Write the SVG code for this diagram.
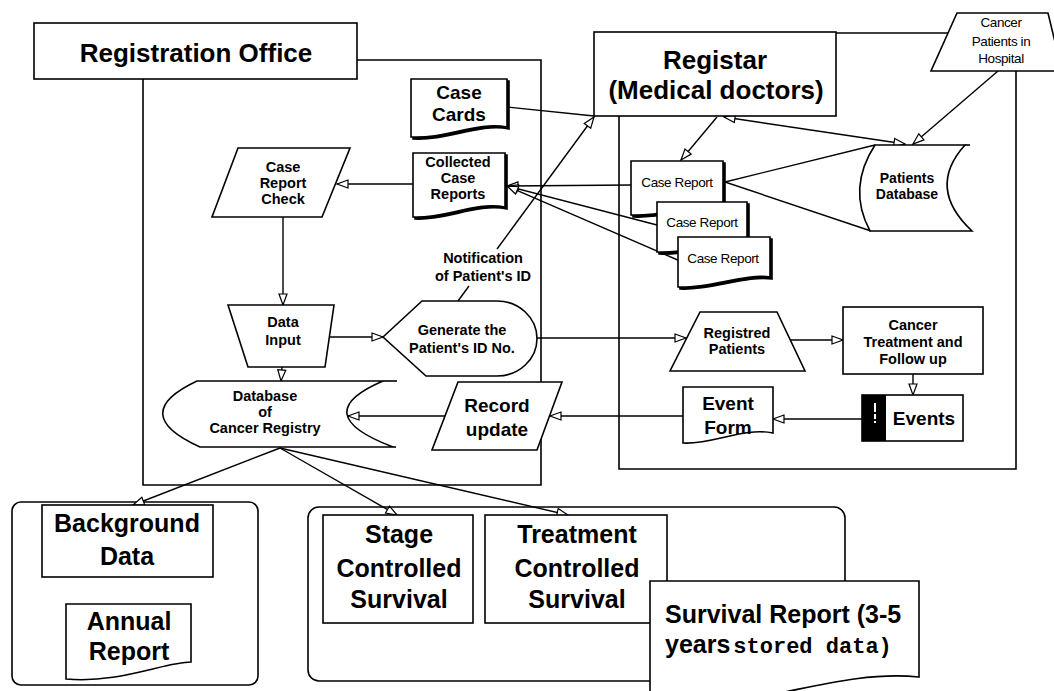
<svg xmlns="http://www.w3.org/2000/svg" width="1054" height="691" viewBox="0 0 1054 691">
<style>
  .shape{fill:#fff;stroke:#000;stroke-width:1.6}
  .frame{fill:none;stroke:#000;stroke-width:1.6}
  .shadow{fill:#000;stroke:#000;stroke-width:1.6}
  .conn line,.conn path,.conn polyline{fill:none;stroke:#000;stroke-width:1.4}
  .arr{marker-end:url(#oa)}
  text{font-family:"Liberation Sans",Arial,sans-serif;font-weight:bold;fill:#000;text-anchor:middle}
  .s{font-size:14.5px}
  .m{font-size:19px}
  .l{font-size:25px}
  .t{font-size:26px}
  .n{font-weight:normal;font-size:13.5px;letter-spacing:-0.4px}
</style>
<defs>
  <marker id="oa" markerUnits="userSpaceOnUse" markerWidth="14" markerHeight="12" refX="12" refY="5" orient="auto">
    <path d="M1,1 L12,5 L1,9 Z" fill="#fff" stroke="#000" stroke-width="1.2"/>
  </marker>
  <marker id="oas" markerUnits="userSpaceOnUse" markerWidth="14" markerHeight="12" refX="12" refY="5" orient="auto-start-reverse">
    <path d="M1,1 L12,5 L1,9 Z" fill="#fff" stroke="#000" stroke-width="1.2"/>
  </marker>
</defs>
<rect width="1054" height="691" fill="#fff"/>

<g id="frames">
  <polyline class="frame" points="357,60 541,60 541,485 143,485 143,79"/>
  <polyline class="frame" points="836,33 948,33"/>
  <polyline class="frame" points="1016,71 1016,469 619,469 619,116"/>
  <rect class="frame" x="12" y="502" width="246" height="183" rx="9"/>
  <rect class="frame" x="308" y="507" width="537" height="174" rx="11"/>
</g>

<g id="connectors" class="conn">
  <line x1="507" y1="107" x2="594" y2="116"/>
  <line class="arr" x1="413" y1="184" x2="337" y2="184"/>
  <line class="arr" x1="631" y1="185" x2="507" y2="186"/>
  <line class="arr" x1="657" y1="225" x2="507" y2="186"/>
  <line class="arr" x1="680" y1="261" x2="507" y2="186"/>
  <line class="arr" x1="717" y1="117" x2="681" y2="160"/>
  <line x1="724" y1="117" x2="905" y2="144" marker-end="url(#oa)" marker-start="url(#oas)"/>
  <line class="arr" x1="998" y1="71" x2="913" y2="144"/>
  <line x1="725" y1="182" x2="875" y2="145"/>
  <line x1="725" y1="182" x2="871" y2="231"/>
  <line class="arr" x1="283" y1="217" x2="283" y2="305"/>
  <line class="arr" x1="282" y1="367" x2="281" y2="381"/>
  <line class="arr" x1="325" y1="337" x2="383" y2="337"/>
  <line x1="458" y1="301" x2="469" y2="286"/>
  <line class="arr" x1="497" y1="249" x2="594" y2="117"/>
  <line class="arr" x1="537" y1="338" x2="686" y2="338"/>
  <line class="arr" x1="790" y1="340" x2="843" y2="340"/>
  <line class="arr" x1="913" y1="374" x2="913" y2="395"/>
  <line class="arr" x1="862" y1="419" x2="773" y2="419"/>
  <line class="arr" x1="683" y1="416" x2="550" y2="416"/>
  <line class="arr" x1="445" y1="416" x2="348" y2="416"/>
  <line class="arr" x1="280" y1="448" x2="133" y2="505"/>
  <line class="arr" x1="280" y1="448" x2="397" y2="515"/>
  <line class="arr" x1="280" y1="448" x2="568" y2="515"/>
</g>

<g id="registration-office">
  <rect class="shape" x="34" y="23" width="323" height="56"/>
  <text class="t" x="196" y="62">Registration Office</text>
</g>

<g id="registar">
  <rect class="shape" x="594" y="32" width="242" height="84"/>
  <text class="t" x="715" y="69">Registar</text>
  <text class="t" x="716" y="99">(Medical doctors)</text>
</g>

<g id="cancer-patients-hospital">
  <polygon class="shape" points="957,13 1048,13 1062,71 931,71"/>
  <text class="n" x="1001" y="27">Cancer</text>
  <text class="n" x="1001" y="46">Patients in</text>
  <text class="n" x="1001" y="63">Hospital</text>
</g>

<g id="case-cards">
  <path class="shadow" transform="translate(2,2)" d="M411,79 H507 V127 C477,121 446,139 411,137 Z"/>
  <path class="shape" d="M411,79 H507 V127 C477,121 446,139 411,137 Z"/>
  <text class="m" x="459" y="99">Case</text>
  <text class="m" x="459" y="121">Cards</text>
</g>

<g id="collected-case-reports">
  <path class="shadow" transform="translate(2,2)" d="M413,153 H505 V207 C475,201 444,219 413,217 Z"/>
  <path class="shape" d="M413,153 H505 V207 C475,201 444,219 413,217 Z"/>
  <text class="s" x="458" y="167">Collected</text>
  <text class="s" x="458" y="183">Case</text>
  <text class="s" x="458" y="199">Reports</text>
</g>

<g id="case-report-check">
  <polygon class="shape" points="238,148 350,148 322,217 212,217"/>
  <text class="s" x="283" y="172">Case</text>
  <text class="s" x="283" y="188">Report</text>
  <text class="s" x="283" y="204">Check</text>
</g>

<g id="case-report-1">
  <path class="shadow" transform="translate(2,2)" d="M631,161 H723 V207 C700,203 660,217 631,215 Z"/>
  <path class="shape" d="M631,161 H723 V207 C700,203 660,217 631,215 Z"/>
  <text class="n" x="677" y="187">Case Report</text>
</g>
<g id="case-report-2">
  <path class="shadow" transform="translate(2,2)" d="M657,202 H747 V244 C725,240 686,254 657,252 Z"/>
  <path class="shape" d="M657,202 H747 V244 C725,240 686,254 657,252 Z"/>
  <text class="n" x="702" y="227">Case Report</text>
</g>
<g id="case-report-3">
  <path class="shadow" transform="translate(2,2)" d="M678,237 H770 V277 C745,273 708,289 678,287 Z"/>
  <path class="shape" d="M678,237 H770 V277 C745,273 708,289 678,287 Z"/>
  <text class="n" x="723" y="263">Case Report</text>
</g>

<g id="patients-database">
  <path class="shape" d="M875,145 L965,145 Q926,188 972,231 L870,231 Q847,188 875,145 Z"/>
  <line x1="965" y1="145" x2="970" y2="145" stroke="#000" stroke-width="1.6"/>
  <text class="s" x="907" y="183" style="font-size:14px">Patients</text>
  <text class="s" x="907" y="199" style="font-size:14px">Database</text>
</g>

<g id="data-input">
  <polygon class="shape" points="228,305 334,305 325,367 248,367"/>
  <text class="s" x="283" y="327">Data</text>
  <text class="s" x="283" y="345">Input</text>
</g>

<g id="notification-label">
  <text class="s" x="483" y="263">Notification</text>
  <text class="s" x="483" y="281">of Patient's ID</text>
</g>

<g id="generate-id">
  <path class="shape" d="M383,337 L422,301 L497,301 A40,37.5 0 0 1 497,376 L426,376 Z"/>
  <text class="s" x="462" y="335">Generate the</text>
  <text class="s" x="462" y="353">Patient's ID No.</text>
</g>

<g id="registred-patients">
  <polygon class="shape" points="700,312 777,312 805,371 670,371"/>
  <text class="s" x="737" y="338">Registred</text>
  <text class="s" x="737" y="354">Patients</text>
</g>

<g id="cancer-treatment">
  <rect class="shape" x="843" y="307" width="140" height="67"/>
  <text class="s" x="913" y="330">Cancer</text>
  <text class="s" x="913" y="347">Treatment and</text>
  <text class="s" x="913" y="364">Follow up</text>
</g>

<g id="events">
  <rect class="shape" x="862" y="395" width="101" height="46"/>
  <rect x="862" y="395" width="24" height="46" fill="#000"/>
  <rect x="874" y="403" width="2" height="9" fill="#fff"/>
  <rect x="874" y="414" width="2" height="5" fill="#fff"/>
  <rect x="874" y="421" width="2" height="2" fill="#fff"/>
  <text class="m" x="924" y="425">Events</text>
</g>

<g id="event-form">
  <path class="shape" d="M683,387 H773 V433 C743,427 712,445 683,443 Z"/>
  <text class="m" x="728" y="410">Event</text>
  <text class="m" x="728" y="434">Form</text>
</g>

<g id="record-update">
  <polygon class="shape" points="458,382 562,382 537,450 432,450"/>
  <text class="m" x="497" y="412">Record</text>
  <text class="m" x="497" y="436">update</text>
</g>

<g id="database-cancer-registry">
  <path class="shape" d="M197,381 L383,381 Q306,414 393,447 L200,447 Q127,414 197,381 Z"/>
  <line x1="383" y1="381" x2="397" y2="381" stroke="#000" stroke-width="1.6"/>
  <line x1="393" y1="447" x2="396" y2="447" stroke="#000" stroke-width="1.6"/>
  <text class="s" x="265" y="401">Database</text>
  <text class="s" x="265" y="417">of</text>
  <text class="s" x="265" y="433">Cancer Registry</text>
</g>

<g id="background-data">
  <rect class="shape" x="42" y="505" width="171" height="72"/>
  <text class="l" x="127" y="532">Background</text>
  <text class="l" x="127" y="565">Data</text>
</g>

<g id="annual-report">
  <path class="shape" d="M66,604 H191 V662 C165,662 118,684 66,679 Z"/>
  <text class="l" x="129" y="630">Annual</text>
  <text class="l" x="129" y="660">Report</text>
</g>

<g id="stage-controlled">
  <rect class="shape" x="323" y="515" width="150" height="108"/>
  <text class="l" x="399" y="543">Stage</text>
  <text class="l" x="399" y="577">Controlled</text>
  <text class="l" x="399" y="608">Survival</text>
</g>

<g id="treatment-controlled">
  <rect class="shape" x="485" y="515" width="182" height="108"/>
  <text class="l" x="577" y="543">Treatment</text>
  <text class="l" x="577" y="577">Controlled</text>
  <text class="l" x="577" y="608">Survival</text>
</g>

<g id="survival-report">
  <path class="shape" d="M650,581 H919 V677 C870,672 820,685 780,693 C740,700 690,705 650,705 Z"/>
  <text class="l" x="665" y="623" style="text-anchor:start">Survival Report (3-5</text>
  <text class="l" x="665" y="653" style="text-anchor:start">years<tspan style="font-family:'Liberation Mono',monospace;font-size:22px" dx="3">stored data)</tspan></text>
</g>
</svg>
